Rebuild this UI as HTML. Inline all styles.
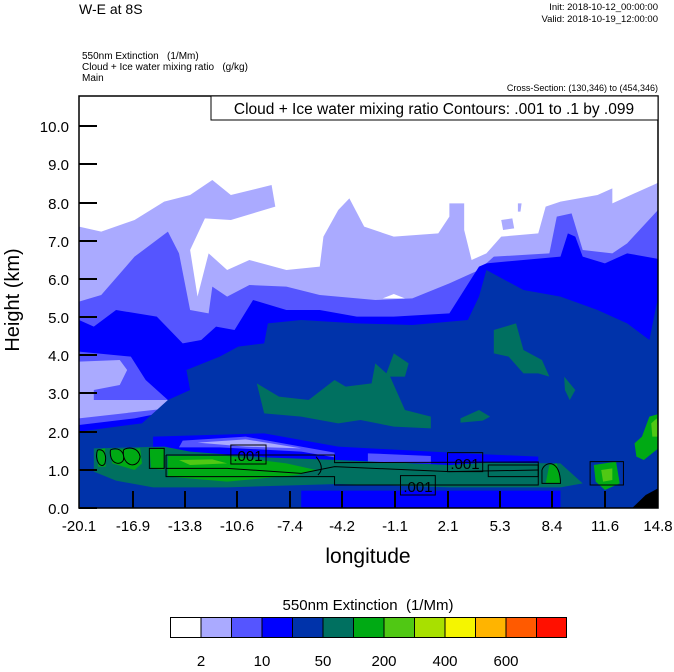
<!DOCTYPE html>
<html><head><meta charset="utf-8"><style>
body{margin:0;background:#fff;width:674px;height:667px;overflow:hidden}
svg text{font-family:"Liberation Sans",sans-serif;fill:#000}
</style></head><body>
<svg width="674" height="667" viewBox="0 0 674 667" xmlns="http://www.w3.org/2000/svg">
<defs><clipPath id="pc"><rect x="79" y="96" width="579" height="412"/></clipPath></defs>
<g clip-path="url(#pc)">
<rect x="79" y="96" width="579" height="412" fill="#fff"/>
<g transform="translate(79,170) scale(0.37037,0.33333)">
<path fill="#aaaaff" d="M0,170 L60,185 150,150 230,95 300,75 360,30 410,75 520,45 530,110 410,150 340,145 300,240 320,380 350,250 400,300 460,270 560,300 650,290 660,200 700,120 730,85 770,170 850,200 970,190 1000,140 1000,100 1040,100 1040,180 1060,270 1100,250 1140,200 1240,190 1260,110 1300,95 1400,75 1440,55 1440,100 1560,40 1580,20 L1580,1100 L0,1100 Z"/>
<path fill="#aaaaff" d="M1140,150 L1170,145 1175,175 1145,180 Z M1185,100 L1195,100 1192,125 1185,125Z"/>
<path fill="#5555ff" d="M0,395 L60,375 150,260 240,185 270,250 300,420 350,430 360,350 400,380 460,345 560,350 650,375 800,390 900,385 1000,340 1080,300 1120,260 1270,250 1290,140 1330,130 1360,240 1440,250 1480,220 1580,100 L1580,1100 L0,1100 Z"/>
<path fill="#fff" d="M820,385 L850,372 880,385 Z"/>
<path fill="#0000ff" d="M0,450 L40,470 100,420 210,440 280,520 330,510 370,470 420,480 470,390 560,420 650,420 750,440 850,440 1000,430 1080,290 1100,280 1300,260 1320,190 1340,200 1360,260 1420,280 1480,250 1580,270 L1580,1100 L0,1100 Z"/>
<path fill="#5555ff" d="M0,545 L140,560 180,630 240,690 240,725 150,745 0,765 Z"/>
<path fill="#aaaaff" d="M0,575 L110,570 130,600 110,645 40,660 40,690 240,690 240,715 0,745 Z"/>
<path fill="#0033aa" d="M0,785 L170,760 240,690 300,660 290,600 380,560 430,530 500,520 510,460 600,450 750,460 900,465 1050,450 1080,380 1100,300 1200,360 1300,380 1400,420 1480,460 1540,510 1560,400 1580,380 L1580,1100 L0,1100 Z"/>
<path fill="#007060" d="M480,640 L540,680 620,690 690,630 720,650 790,640 800,580 830,610 850,550 890,580 880,620 840,620 880,720 950,740 950,775 850,770 760,750 700,760 600,740 500,730 Z"/>
<path fill="#007060" d="M1120,480 L1180,460 1200,540 1250,570 1270,620 1240,610 1200,610 1160,560 1120,550 Z M1310,620 L1340,660 1325,690 1312,660 Z M1030,745 L1080,720 1110,740 1090,752 1030,758 Z"/>
<path fill="#0000ff" d="M200,800 L500,790 700,830 1040,850 1240,860 1240,890 700,890 400,860 200,850 Z"/>
<path fill="#5555ff" d="M280,812 L450,800 690,848 690,862 600,845 380,832 270,832 Z M780,850 L950,858 950,880 780,876 Z"/>
<path fill="#aaaaff" d="M320,818 L450,808 600,835 450,830 Z"/>
<path fill="#007060" d="M40,835 L230,830 300,845 500,862 700,870 1000,885 1100,878 1300,880 1330,910 1360,940 1300,952 1000,952 700,942 400,952 200,952 100,932 40,905 Z"/>
<path fill="#00aa14" d="M240,858 L400,858 560,880 640,900 590,915 400,935 240,920 Z"/>
<path fill="#00aa14" d="M50,840 L70,835 72,890 52,890 Z M85,840 L165,835 170,880 150,900 90,880 Z M190,835 L230,835 228,900 195,895 Z M1390,885 L1450,875 1460,940 1420,960 1395,935 Z M1270,885 L1290,880 1300,940 1260,940 Z"/>
<path fill="#50c814" d="M270,870 L360,868 400,880 300,885 Z M1410,900 L1440,895 1440,930 1415,935 Z"/>
<path fill="#00aa14" d="M1500,820 L1520,800 1540,740 1570,730 1570,830 1525,870 1505,860 Z"/>
<path fill="#50c814" d="M1545,760 L1560,745 1565,800 1548,800 Z"/>
<path fill="#0000ff" d="M600,962 L1300,962 1300,1100 600,1100 Z"/>
<path fill="#000" d="M1490,1018 L1530,975 1580,945 1580,1100 1480,1100 Z"/>
<g fill="none" stroke="#000" stroke-width="1">
<path vector-effect="non-scaling-stroke" d="M235,855 L690,855 690,878 1240,876 1240,945 690,945 690,920 235,920 235,855"/>
<path vector-effect="non-scaling-stroke" d="M235,895 L400,895 600,910 690,890 1000,905 1240,900"/>
<path vector-effect="non-scaling-stroke" d="M50,840 C40,870 60,900 70,880 C75,860 70,835 50,840 M85,840 C80,880 110,890 120,870 C125,840 100,830 85,840 M120,840 C115,890 160,900 165,860 C160,830 130,830 120,840 M190,835 L230,835 230,895 190,895 Z M1105,885 L1240,885 1240,920 1105,920 Z M1380,875 L1470,875 1470,945 1380,945 Z M1250,900 C1260,870 1300,870 1300,940 L1250,940 Z M640,860 C655,880 660,900 645,915"/>
<rect vector-effect="non-scaling-stroke" x="410" y="825" width="95" height="57"/>
<rect vector-effect="non-scaling-stroke" x="995" y="848" width="95" height="57"/>
<rect vector-effect="non-scaling-stroke" x="868" y="917" width="94" height="58"/>
</g>
</g>
<text x="248" y="461" font-size="15" text-anchor="middle">.001</text>
<text x="465" y="469" font-size="15" text-anchor="middle">.001</text>
<text x="418" y="492" font-size="15" text-anchor="middle">.001</text>
</g>
<rect x="79" y="96" width="579" height="412" fill="none" stroke="#000" stroke-width="1.5"/>
<g stroke="#000" stroke-width="2">
<path d="M79,508h18M79,470h18M79,432h18M79,393h18M79,355h18M79,317h18M79,279h18M79,241h18M79,203h18M79,164h18M79,126h18"/>
<path d="M133,508v-17M185,508v-17M237,508v-17M290,508v-17M342,508v-17M395,508v-17M448,508v-17M500,508v-17M552,508v-17M605,508v-17"/>
</g>
<g font-size="15" text-anchor="end">
<text x="69" y="514">0.0</text><text x="69" y="476">1.0</text><text x="69" y="438">2.0</text><text x="69" y="399">3.0</text><text x="69" y="361">4.0</text><text x="69" y="323">5.0</text><text x="69" y="285">6.0</text><text x="69" y="247">7.0</text><text x="69" y="209">8.0</text><text x="69" y="170">9.0</text><text x="69" y="132">10.0</text>
</g>
<g font-size="15" text-anchor="middle">
<text x="79" y="531">-20.1</text><text x="133" y="531">-16.9</text><text x="185" y="531">-13.8</text><text x="237" y="531">-10.6</text><text x="290" y="531">-7.4</text><text x="342" y="531">-4.2</text><text x="395" y="531">-1.1</text><text x="448" y="531">2.1</text><text x="500" y="531">5.3</text><text x="552" y="531">8.4</text><text x="605" y="531">11.6</text><text x="658" y="531">14.8</text>
</g>
<text x="368" y="563" font-size="21" text-anchor="middle">longitude</text>
<text transform="translate(19,300) rotate(-90)" font-size="20" text-anchor="middle">Height (km)</text>
<rect x="211" y="96" width="447" height="24" fill="#fff" stroke="#000"/>
<text x="434" y="114" font-size="15.5" text-anchor="middle">Cloud + Ice water mixing ratio Contours: .001 to .1 by .099</text>
<text x="79" y="14" font-size="14">W-E at 8S</text>
<text x="658" y="10" font-size="9.5" text-anchor="end">Init: 2018-10-12_00:00:00</text>
<text x="658" y="22" font-size="9.5" text-anchor="end">Valid: 2018-10-19_12:00:00</text>
<text x="82" y="59" font-size="10">550nm Extinction &#160;&#160;(1/Mm)</text>
<text x="82" y="70" font-size="10">Cloud + Ice water mixing ratio &#160;&#160;(g/kg)</text>
<text x="82" y="81" font-size="10">Main</text>
<text x="658" y="91" font-size="9" text-anchor="end">Cross-Section: (130,346) to (454,346)</text>
<text x="368" y="610" font-size="15" text-anchor="middle">550nm Extinction &#160;(1/Mm)</text>
<g stroke="#000" stroke-width="1">
<rect x="170.5" y="617.5" width="30.5" height="20" fill="#fff"/>
<rect x="201" y="617.5" width="30.5" height="20" fill="#aaaaff"/>
<rect x="231.5" y="617.5" width="30.5" height="20" fill="#5555ff"/>
<rect x="262" y="617.5" width="30.5" height="20" fill="#0000ff"/>
<rect x="292.5" y="617.5" width="30.5" height="20" fill="#0033aa"/>
<rect x="323" y="617.5" width="30.5" height="20" fill="#007060"/>
<rect x="353.5" y="617.5" width="30.5" height="20" fill="#00aa14"/>
<rect x="384" y="617.5" width="30.5" height="20" fill="#50c814"/>
<rect x="414.5" y="617.5" width="30.5" height="20" fill="#a8e000"/>
<rect x="445" y="617.5" width="30.5" height="20" fill="#f5f500"/>
<rect x="475.5" y="617.5" width="30.5" height="20" fill="#ffb400"/>
<rect x="506" y="617.5" width="30.5" height="20" fill="#ff5a00"/>
<rect x="536.5" y="617.5" width="30" height="20" fill="#ff1000"/>
</g>
<g font-size="15" text-anchor="middle">
<text x="201" y="666">2</text><text x="262" y="666">10</text><text x="323" y="666">50</text><text x="384" y="666">200</text><text x="445" y="666">400</text><text x="506" y="666">600</text>
</g>
</svg>
</body></html>
